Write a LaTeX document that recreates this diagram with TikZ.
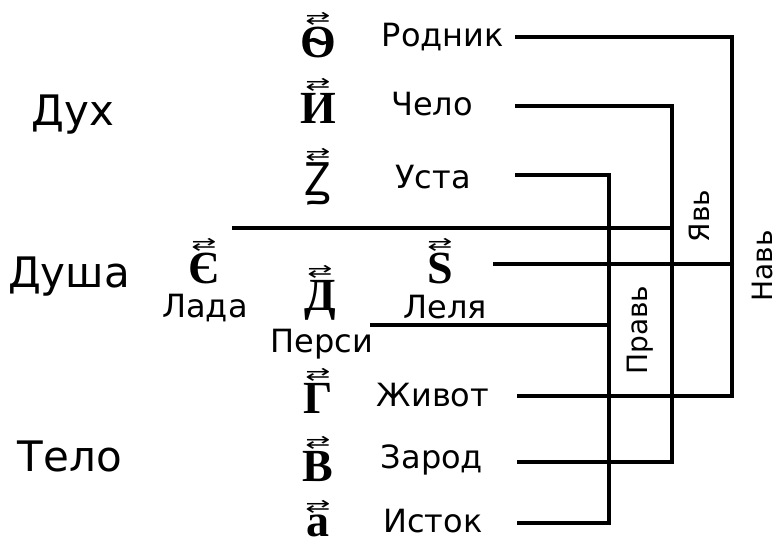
\documentclass[tikz,border=0pt]{standalone}
\usepackage{fontspec}
\setmainfont{DejaVu Sans}
\newfontfamily\slavfont{Liberation Serif}
\newfontfamily\zemfont{Noto Sans}
\newfontfamily\symfont{DejaVu Sans}
\tikzset{
  word/.style={font=\fontsize{32}{32}\selectfont, inner sep=0pt},
  part/.style={font=\fontsize{42}{42}\selectfont, inner sep=0pt},
  world/.style={font=\fontsize{28}{28}\selectfont, inner sep=0pt, rotate=90},
  titlo/.style={font=\fontsize{30}{30}\selectfont\symfont, inner sep=0pt, yshift=1pt, yscale=0.6},
  letter/.style={font=\fontsize{46}{46}\selectfont\slavfont\bfseries, inner sep=0pt, label={[titlo]above:⇄}},
  link/.style={line width=4pt}
}
\begin{document}
\begin{tikzpicture}[x=1pt,y=-1pt]
        \useasboundingbox (0,0) rectangle (780,550);
        %% Parts
        \node[part] (dukh) at (73,115) {Дух};
        \node[part] (dusha) at (69,277) {Душа};
        \node[part] (telo) at (70,456) {Тело};
        %% Letters
        \node[letter] (fita) at (318,42) {Ѳ};
        \node[letter] (izhe) at (318,108) {И};
        \node[letter] (zemlya) at (318,184) {\zemfont Ꙁ};
        \node[letter] (est) at (204,268) {Є};
        \node[letter] (dobro) at (320,300) {Д};
        \node[letter] (zelo) at (440,268) {Ѕ};
        \node[letter] (glagol) at (318,398) {Г};
        \node[letter] (vedi) at (318,466) {В};
        \node[letter] (az) at (318,526) {а};
        %% Words
        \node[word] (rodnik) at (443,37) {Родник};
        \node[word] (chelo) at (432,104) {Чело};
        \node[word] (usta) at (433,177) {Уста};
        \node[word] (lada) at (205,308) {Лада};
        \node[word] (persi) at (322,344) {Перси};
        \node[word] (lelya) at (445,307) {Леля};
        \node[word] (zhivot) at (433,395) {Живот};
        \node[word] (zarod) at (432,460) {Зарод};
        \node[word] (istok) at (433,521) {Исток};
        %% Worlds
        \coordinate (nav) at (732,0);
        \coordinate (yav) at (672,0);
        \coordinate (prav) at (609,0);
        \coordinate (rodnikE) at (515,37);
        \coordinate (cheloE) at (515,106);
        \coordinate (ustaE) at (515,175);
        \coordinate (ladaE) at (232,228);
        \coordinate (lelyaE) at (493,264);
        \coordinate (persiE) at (370,325);
        \coordinate (zhivotE) at (517,396);
        \coordinate (zarodE) at (517,462);
        \coordinate (istokE) at (517,523);
        \draw[link] (rodnikE) -| (nav |- zhivotE) -- (zhivotE);
        \draw[link] (lelyaE) -- (nav |- lelyaE);
        \draw[link] (cheloE) -| (yav |- zarodE) -- (zarodE);
        \draw[link] (ladaE) -- (yav |- ladaE);
        \draw[link] (ustaE) -| (prav |- istokE) -- (istokE);
        \draw[link] (persiE) -- (prav |- persiE);
        \node[world] (yavL) at (699,216) {Явь};
        \node[world] (navL) at (762,266) {Навь};
        \node[world] (pravL) at (640,330) {Правь};
    \end{tikzpicture}
\end{document}
